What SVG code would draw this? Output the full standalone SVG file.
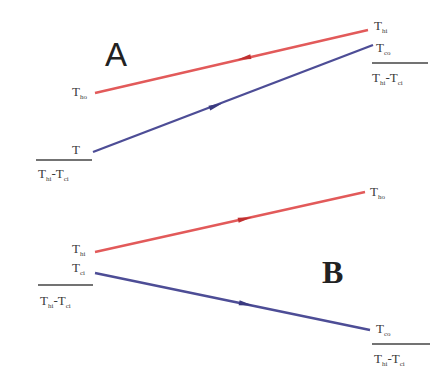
<svg xmlns="http://www.w3.org/2000/svg" width="439" height="374" viewBox="0 0 439 374">
<style>
.lbl{font-family:"Liberation Serif",serif;font-size:13px;fill:#3a3a3a}
.sub{font-size:7px}
.hot{stroke:#e25a5a;stroke-width:2.4;fill:none}
.cold{stroke:#4d4d96;stroke-width:2.4;fill:none}
.rule{stroke:#444;stroke-width:1.6}
.ah{fill:#c03030}
.ac{fill:#3a3a80}
</style>
<rect width="439" height="374" fill="#ffffff"/>
<g id="connectors">
<line class="hot" x1="95" y1="93" x2="368" y2="30"/>
<line class="cold" x1="93" y1="152" x2="373" y2="45"/>
<line class="hot" x1="95" y1="252" x2="365" y2="192"/>
<line class="cold" x1="95" y1="273" x2="370" y2="330"/>
<polygon class="ah" points="-8,0 6,-2.5 6,2.5" transform="translate(245,58) rotate(-13)"/>
<polygon class="ac" points="8,0 -6,-2.5 -6,2.5" transform="translate(215,106) rotate(-21)"/>
<polygon class="ah" points="8,0 -6,-2.5 -6,2.5" transform="translate(244,219) rotate(-12.5)"/>
<polygon class="ac" points="8,0 -6,-2.5 -6,2.5" transform="translate(245,304) rotate(11.7)"/>
</g>
<g id="labelA"><text x="105" y="66" font-family="Liberation Sans,sans-serif" font-size="33" fill="#222">A</text></g>
<g id="A-hot-left"><text class="lbl" x="72" y="96">T<tspan class="sub" dy="3">ho</tspan></text></g>
<g id="A-hot-right"><text class="lbl" x="374" y="30">T<tspan class="sub" dy="3">hi</tspan></text></g>
<g id="A-cold-left">
<text class="lbl" x="72" y="154">T</text>
<line class="rule" x1="36" y1="160" x2="92" y2="160"/>
<text class="lbl" x="38" y="178">T<tspan class="sub" dy="3">hi</tspan><tspan dy="-3">-T</tspan><tspan class="sub" dy="3">ci</tspan></text>
</g>
<g id="A-cold-right">
<text class="lbl" x="376" y="52">T<tspan class="sub" dy="3">co</tspan></text>
<line class="rule" x1="372" y1="63" x2="428" y2="63"/>
<text class="lbl" x="372" y="82">T<tspan class="sub" dy="3">hi</tspan><tspan dy="-3">-T</tspan><tspan class="sub" dy="3">ci</tspan></text>
</g>
<g id="labelB"><text x="322" y="283" font-family="Liberation Serif,serif" font-weight="bold" font-size="32" fill="#222">B</text></g>
<g id="B-hot-left"><text class="lbl" x="72" y="253">T<tspan class="sub" dy="3">hi</tspan></text></g>
<g id="B-hot-right"><text class="lbl" x="370" y="196">T<tspan class="sub" dy="3">ho</tspan></text></g>
<g id="B-cold-left">
<text class="lbl" x="72" y="272">T<tspan class="sub" dy="3">ci</tspan></text>
<line class="rule" x1="38" y1="285" x2="93" y2="285"/>
<text class="lbl" x="40" y="305">T<tspan class="sub" dy="3">hi</tspan><tspan dy="-3">-T</tspan><tspan class="sub" dy="3">ci</tspan></text>
</g>
<g id="B-cold-right">
<text class="lbl" x="376" y="333">T<tspan class="sub" dy="3">co</tspan></text>
<line class="rule" x1="372" y1="344" x2="430" y2="344"/>
<text class="lbl" x="374" y="363">T<tspan class="sub" dy="3">hi</tspan><tspan dy="-3">-T</tspan><tspan class="sub" dy="3">ci</tspan></text>
</g>
</svg>
